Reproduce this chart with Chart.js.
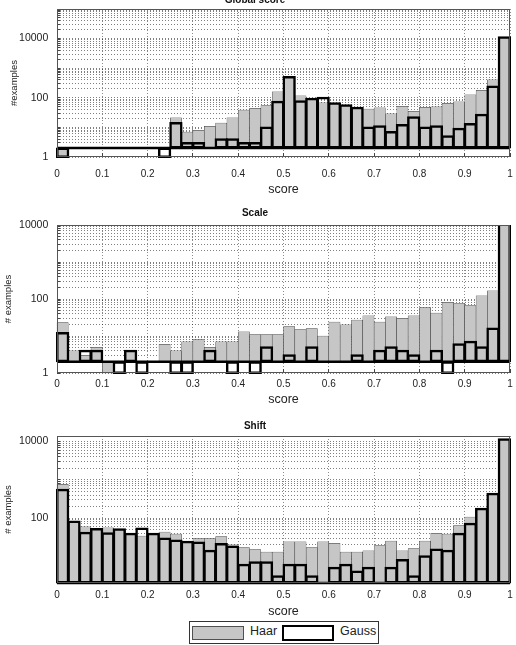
<!DOCTYPE html>
<html>
<head>
<meta charset="utf-8">
<script src="https://cdn.jsdelivr.net/npm/chart.js@4.4.0/dist/chart.umd.min.js"></script>
<style>
  html, body { margin: 0; padding: 0; background: #fff; }
  body { width: 516px; height: 645px; position: relative; overflow: hidden; font-family: "Liberation Sans", Arial, sans-serif; }
  .box { position: absolute; left: 0; width: 516px; }
  #legend { position: absolute; left: 189px; top: 621px; width: 190px; height: 23px; box-sizing: border-box; border: 1px solid #333; background: #fff; }
  #legend .patch { position: absolute; box-sizing: border-box; width: 52px; }
  #legend .haar { left: 2px; top: 4px; height: 14px; background: #c6c6c6; border: 1px solid #505050; }
  #legend .gauss { left: 92px; top: 3px; height: 16px; border: 2.5px solid #000; }
  #legend .lbl { position: absolute; top: 2px; font-size: 12.5px; line-height: 15px; color: #222; }
</style>
</head>
<body>
<div class="box" style="top:-20px;height:217px"><canvas id="global"></canvas></div>
<div class="box" style="top:200px;height:207px"><canvas id="scale"></canvas></div>
<div class="box" style="top:415px;height:204px"><canvas id="shift"></canvas></div>
<div id="legend">
  <span class="patch haar"></span><span class="lbl" style="left:60px">Haar</span>
  <span class="patch gauss"></span><span class="lbl" style="left:150px">Gauss</span>
</div>
<script>
// histogram bins (score), 40 bins of width 0.025
const binCenters = [0.0125, 0.0375, 0.0625, 0.0875, 0.1125, 0.1375, 0.1625, 0.1875, 0.2125, 0.2375,
  0.2625, 0.2875, 0.3125, 0.3375, 0.3625, 0.3875, 0.4125, 0.4375, 0.4625, 0.4875,
  0.5125, 0.5375, 0.5625, 0.5875, 0.6125, 0.6375, 0.6625, 0.6875, 0.7125, 0.7375,
  0.7625, 0.7875, 0.8125, 0.8375, 0.8625, 0.8875, 0.9125, 0.9375, 0.9625, 0.9875];

const xTicks = [0, 0.1, 0.2, 0.3, 0.4, 0.5, 0.6, 0.7, 0.8, 0.9, 1];

// # examples per bin (null = empty bin)
const globalHaar = [1, null, null, null, null, null, null, null, null, null,
  21, 7, 8, 11, 14, 21, 39, 44, 55, 160,
  500, 117, 92, 68, 66, 56, 46, 42, 46, 29,
  52, 35, 48, 50, 66, 73, 126, 180, 405, 11000];
const globalGauss = [1, null, null, null, null, null, null, null, null, 1,
  14, 3, 3, null, 4, 4, 3, 3, 10, 73,
  500, 77, 93, 100, 66, 56, 46, 10, 11, 7,
  12, 22, 10, 11, 5, 9, 13, 27, 240, 11000];

const scaleHaar = [23, 4, 3, 5, 1, null, 4, null, null, 6,
  4, 7, 8, 5, 7, 7, 13, 11, 11, 11,
  18, 15, 16, 10, 24, 20, 27, 35, 24, 33,
  30, 35, 59, 42, 82, 76, 67, 123, 166, 10500];
const scaleGauss = [12, null, 4, 4, null, 1, 4, 1, null, null,
  1, 1, null, 4, null, 1, null, 1, 5, null,
  3, null, 5, null, null, null, 3, null, 4, 5,
  4, 3, null, 4, 1, 6, 7, 5, 16, 10500];

const shiftHaar = [770, 78, 59, 50, 56, 50, 39, 34, 38, 43,
  38, 24, 29, 29, 33, 20, 17, 15, 13, 13,
  24, 24, 17, 24, 22, 13, 13, 14, 19, 25,
  14, 16, 25, 40, 38, 64, 106, 174, 430, 11500];
const shiftGauss = [550, 81, 41, 52, 40, 51, 39, 53, 39, 29,
  26, 24, 23, 14, 21, 18, 6, 7, 7, 3,
  6, 6, 3, null, 5, 6, 4, 5, null, 5,
  8, 3, 10, 15, 14, 39, 71, 174, 430, 11500];

const globalYLabels = [1, 100, 10000];
const scaleYLabels = [1, 100, 10000];
const shiftYLabels = [100, 10000];

const BAR_BASE = 2;

Chart.defaults.font.family = '"Liberation Sans", Arial, sans-serif';
Chart.defaults.color = '#222';

// frame round the axes and the thick bar baseline
const framePlugin = {
  id: 'frame',
  afterDatasetsDraw(chart) {
    const ctx = chart.ctx;
    const a = chart.chartArea;
    const yb = chart.scales.y.getPixelForValue(BAR_BASE);
    ctx.save();
    ctx.strokeStyle = '#000';
    ctx.lineWidth = 2.5;
    ctx.beginPath();
    ctx.moveTo(a.left, yb);
    ctx.lineTo(a.right, yb);
    ctx.stroke();
    ctx.strokeStyle = '#555';
    ctx.lineWidth = 1;
    ctx.strokeRect(Math.round(a.left) + 0.5, Math.round(a.top) + 0.5, Math.round(a.right - a.left) - 1, Math.round(a.bottom - a.top) - 1);
    ctx.restore();
  }
};

function histChart(id, c) {
  return new Chart(document.getElementById(id), {
    type: 'bar',
    data: {
      labels: binCenters,
      datasets: [{
        label: 'Haar',
        data: c.haar,
        base: BAR_BASE,
        backgroundColor: '#c6c6c6',
        borderColor: '#333',
        borderWidth: 0.5,
        inflateAmount: 0.25,
        borderSkipped: false,
        grouped: false,
        categoryPercentage: 1,
        barPercentage: 1,
        clip: {left: 3, top: 0, right: 3, bottom: 3},
        order: 2
      }, {
        label: 'Gauss',
        data: c.gauss,
        base: BAR_BASE,
        backgroundColor: 'rgba(0,0,0,0)',
        borderColor: '#000',
        borderWidth: 0.5,
        inflateAmount: 1,
        borderSkipped: false,
        grouped: false,
        categoryPercentage: 1,
        barPercentage: 1,
        clip: {left: 3, top: 0, right: 3, bottom: 3},
        order: 1
      }]
    },
    options: {
      responsive: true,
      maintainAspectRatio: false,
      animation: false,
      layout: { padding: { top: c.padTop, left: 0, right: 6, bottom: 0 } },
      scales: {
        x: {
          type: 'linear',
          min: 0,
          max: 1,
          offset: false,
          afterBuildTicks: (scale) => { scale.ticks = xTicks.map(v => ({ value: v })); },
          afterFit: (scale) => {
            scale.height = c.xHeight;
            scale.paddingLeft = 0;
            scale.paddingRight = 0;
          },
          ticks: { autoSkip: false, maxRotation: 0, padding: c.xPad, font: { size: 10 }, callback: (v) => String(v) },
          grid: { offset: false, color: 'rgba(0,0,0,0.45)', tickLength: -4, tickColor: '#444' },
          border: { display: false, dash: [1, 2] },
          title: { display: true, text: 'score', font: { size: 12.5 }, padding: { top: 0, bottom: 0 } }
        },
        y: {
          type: 'logarithmic',
          min: c.yMin,
          max: c.yMax,
          afterBuildTicks: (scale) => {
            const t = [];
            for (let d = 1; d <= scale.max; d *= 10) {
              for (let m = 1; m < 10; m++) {
                const v = m * d;
                if (v >= scale.min && v <= scale.max) t.push({ value: v });
              }
            }
            scale.ticks = t;
          },
          afterFit: (scale) => {
            scale.width = 57;
            scale.paddingTop = 0;
            scale.paddingBottom = 0;
          },
          ticks: { autoSkip: false, padding: 11.7, font: { size: 10.5 }, callback: (v) => c.yLabels.includes(v) ? String(v) : '' },
          grid: { color: 'rgba(0,0,0,0.5)', tickLength: -3, tickColor: '#444' },
          border: { display: false, dash: [1, 2] },
          title: { display: true, text: c.yTitle, font: { size: 9.5 }, padding: { top: c.yTitlePad, bottom: 0 } }
        }
      },
      plugins: {
        legend: { display: false },
        tooltip: { enabled: false },
        title: { display: true, text: c.title, font: { size: 10, weight: 'bold' }, color: '#111', padding: { top: 0, bottom: c.titleGap } }
      }
    },
    plugins: [framePlugin]
  });
}

histChart('global', { title: 'Global score', haar: globalHaar, gauss: globalGauss, yMin: 1, yMax: 100000,
  yLabels: globalYLabels, yTitle: '#examples', yTitlePad: 8.3, padTop: 14, titleGap: 3, xHeight: 40, xPad: 14.9 });
histChart('scale', { title: 'Scale', haar: scaleHaar, gauss: scaleGauss, yMin: 1, yMax: 10000,
  yLabels: scaleYLabels, yTitle: '# examples', yTitlePad: 2.3, padTop: 7.3, titleGap: 5.7, xHeight: 34, xPad: 9.5 });
histChart('shift', { title: 'Shift', haar: shiftHaar, gauss: shiftGauss, yMin: 2, yMax: 14000,
  yLabels: shiftYLabels, yTitle: '# examples', yTitlePad: 2.3, padTop: 5.7, titleGap: 3.3, xHeight: 36, xPad: 10.5 });
</script>
</body>
</html>
